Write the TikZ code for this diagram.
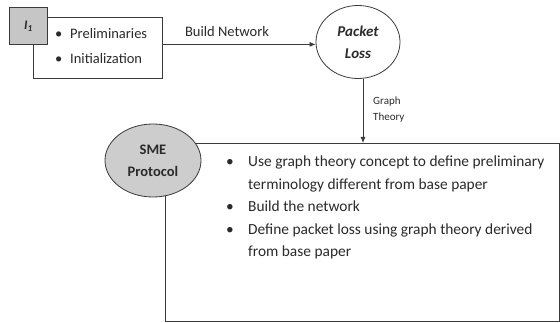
\documentclass[tikz,border=0pt]{standalone}
\usepackage{fontspec}
\setmainfont{Carlito}
\usetikzlibrary{arrows.meta,shapes.geometric}
\definecolor{ln}{HTML}{3A3A3A}
\definecolor{gfill}{HTML}{C6C6C6}
\definecolor{efill}{HTML}{CDCDCD}
\definecolor{tx}{HTML}{2A2A2A}
\begin{document}
\begin{tikzpicture}[x=1pt,y=-1pt,
  every node/.style={text=tx},
  boxst/.style={draw=ln,line width=0.8pt,fill=white,inner sep=0pt,anchor=north west},
  ellst/.style={ellipse,draw=ln,line width=0.8pt,inner sep=0pt,align=center},
  arr/.style={draw=ln,line width=0.8pt,-{Latex[length=6pt,width=5pt]}},
  txt/.style={font=\fontsize{14.5}{17}\selectfont,anchor=base west,inner sep=0pt},
  btxt/.style={font=\fontsize{15.4}{18}\selectfont,anchor=base west,inner sep=0pt},
  lbl/.style={font=\fontsize{11}{16}\selectfont,anchor=west,inner sep=0pt,align=left}]
\useasboundingbox (0,0) rectangle (560,323);
% top-left box
\node[boxst,minimum width=129pt,minimum height=61pt] (pre) at (33,17) {};
\node[boxst,fill=gfill,minimum width=38pt,minimum height=37pt] (i1) at (9,7) {};
\node[font=\fontsize{13}{15}\selectfont\bfseries\itshape] (i1t) at (i1.center) {I\textsubscript{1}};
\node[txt] (b1) at (55,39) {\textbullet};
\node[txt] (t1) at (70,39) {Preliminaries};
\node[txt] (b2) at (55,64) {\textbullet};
\node[txt] (t2) at (70,64) {Initialization};
% packet loss
\node[ellst,minimum width=84pt,minimum height=73pt,font=\fontsize{15}{22}\selectfont\bfseries\itshape] (pl) at (358,42) {Packet\\Loss};
\draw[arr] ([yshift=3.5pt]pre.east) coordinate (a1) -- (a1 -| pl.west);
\node[font=\fontsize{14.5}{17}\selectfont,anchor=base] (bn) at (227,37) {Build Network};
% big box
\node[boxst,minimum width=394pt,minimum height=178pt] (big) at (165,143) {};
\node[ellst,fill=efill,minimum width=96pt,minimum height=73pt,font=\fontsize{14.5}{22}\selectfont\bfseries] (sme) at (153,160.5) {SME\\Protocol};
\draw[arr] ([xshift=5pt]pl.south) coordinate (a2) -- (a2 |- big.north);
\node[lbl] (gt) at (373,110) {Graph\\Theory};
% bullets
\node[btxt] (c1) at (226,167) {\textbullet};
\node[btxt] (d1) at (248,167) {Use graph theory concept to define preliminary};
\node[btxt] (d1b) at (248,190) {terminology different from base paper};
\node[btxt] (c2) at (226,212) {\textbullet};
\node[btxt] (d2) at (248,212) {Build the network};
\node[btxt] (c3) at (226,235) {\textbullet};
\node[btxt] (d3) at (248,235) {Define packet loss using graph theory derived};
\node[btxt] (d3b) at (248,257) {from base paper};
\end{tikzpicture}
\end{document}
